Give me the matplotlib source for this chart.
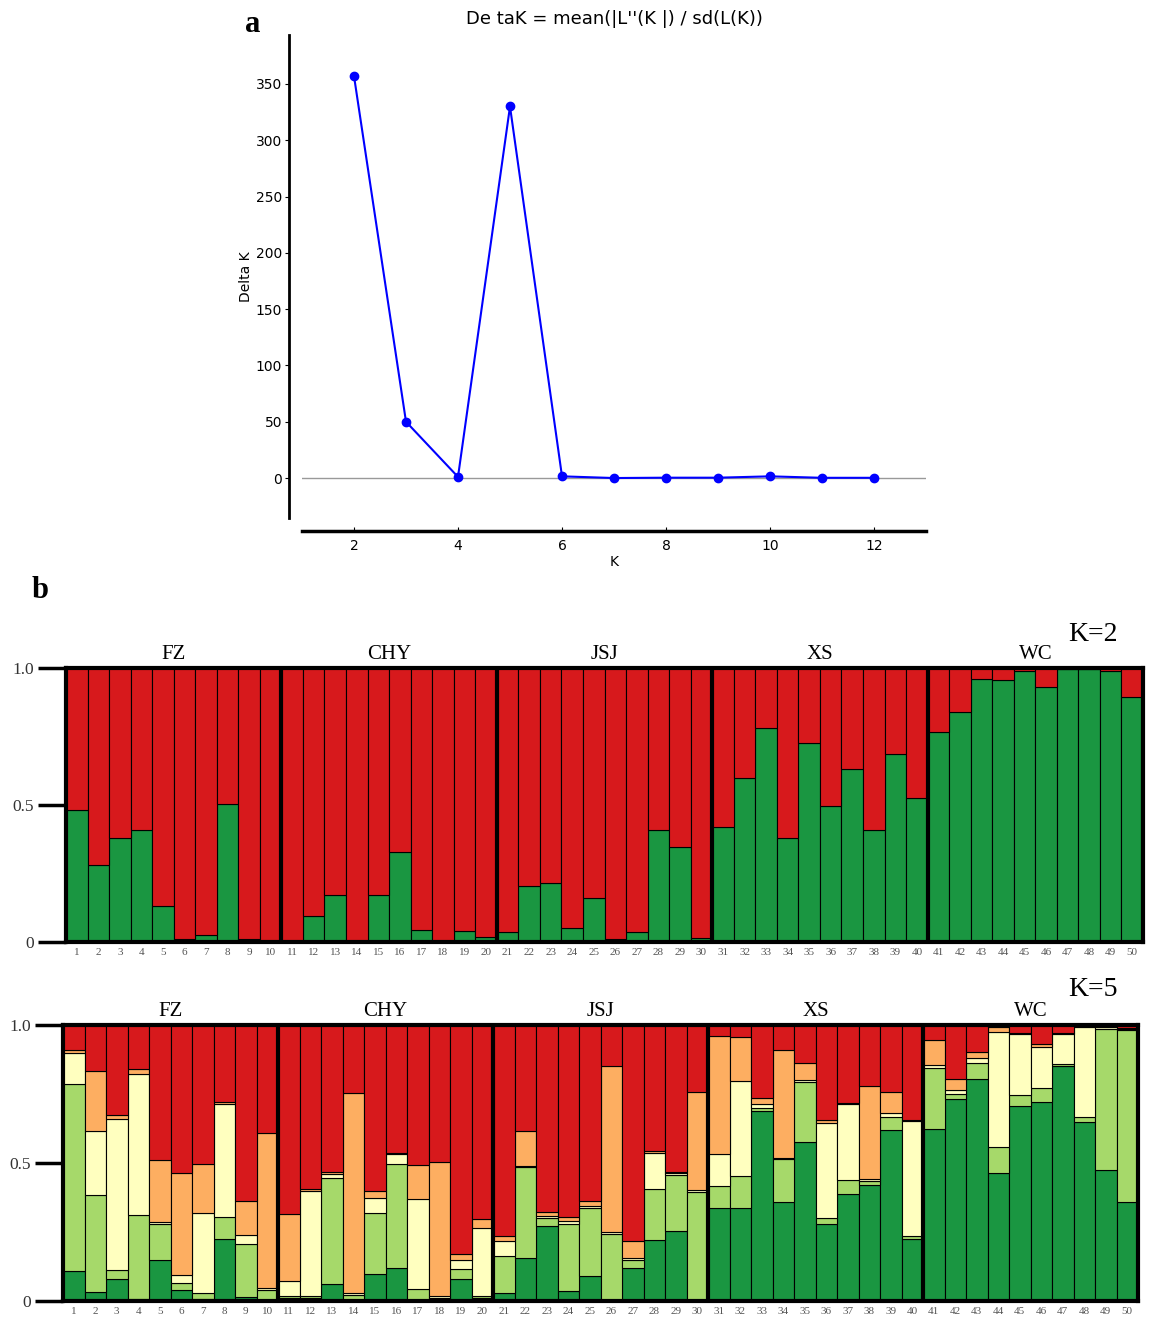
import numpy as np
import matplotlib
matplotlib.use('Agg')
import matplotlib.pyplot as plt

# panel a : delta K
k_values = [2, 3, 4, 5, 6, 7, 8, 9, 10, 11, 12]
delta_k = [357, 50, 1, 330, 1.5, 0, 0.3, 0.3, 1.5, 0.2, 0.2]

# panel b : groups and individuals
groups = ['FZ', 'CHY', 'JSJ', 'XS', 'WC']
individuals = [str(i) for i in range(1, 51)]

# K=2 membership of the green cluster (red is the rest)
k2_green = [0.48, 0.28, 0.38, 0.41, 0.13, 0.01, 0.025, 0.505, 0.01, 0.0,
            0.0, 0.095, 0.17, 0.0, 0.17, 0.33, 0.045, 0.0, 0.04, 0.02,
            0.035, 0.205, 0.215, 0.05, 0.16, 0.01, 0.035, 0.41, 0.345, 0.015,
            0.42, 0.60, 0.78, 0.38, 0.725, 0.495, 0.63, 0.41, 0.685, 0.525,
            0.765, 0.84, 0.96, 0.955, 0.99, 0.93, 0.995, 0.995, 0.99, 0.895]

# K=5 cumulative tops (dark green, light green, yellow, orange); red fills to 1
k5_dgreen = [0.109, 0.034, 0.078, 0.006, 0.150, 0.041, 0.006, 0.223, 0.015, 0.002,
             0.010, 0.010, 0.061, 0.002, 0.097, 0.121, 0.002, 0.005, 0.078, 0.010,
             0.030, 0.155, 0.273, 0.036, 0.092, 0.002, 0.121, 0.221, 0.252, 0.002,
             0.337, 0.337, 0.688, 0.360, 0.577, 0.279, 0.388, 0.422, 0.618, 0.225,
             0.622, 0.732, 0.806, 0.465, 0.708, 0.722, 0.851, 0.647, 0.476, 0.360]
k5_lgreen = [0.785, 0.384, 0.112, 0.310, 0.279, 0.065, 0.030, 0.305, 0.208, 0.039,
             0.017, 0.019, 0.447, 0.021, 0.318, 0.497, 0.045, 0.010, 0.115, 0.017,
             0.164, 0.485, 0.301, 0.279, 0.336, 0.242, 0.148, 0.406, 0.457, 0.395,
             0.415, 0.453, 0.701, 0.513, 0.792, 0.301, 0.440, 0.436, 0.667, 0.235,
             0.845, 0.749, 0.864, 0.558, 0.745, 0.771, 0.858, 0.668, 0.984, 0.982]
k5_yellow = [0.897, 0.617, 0.658, 0.824, 0.288, 0.095, 0.318, 0.713, 0.240, 0.048,
             0.073, 0.400, 0.459, 0.030, 0.372, 0.531, 0.370, 0.017, 0.150, 0.265,
             0.216, 0.490, 0.308, 0.291, 0.345, 0.250, 0.155, 0.536, 0.464, 0.401,
             0.531, 0.798, 0.715, 0.519, 0.801, 0.645, 0.715, 0.441, 0.681, 0.652,
             0.855, 0.764, 0.879, 0.976, 0.967, 0.919, 0.966, 0.994, 0.992, 0.987]
k5_orange = [0.911, 0.835, 0.673, 0.839, 0.510, 0.463, 0.496, 0.722, 0.362, 0.607,
             0.314, 0.406, 0.467, 0.752, 0.399, 0.537, 0.491, 0.504, 0.172, 0.296,
             0.235, 0.616, 0.322, 0.305, 0.361, 0.851, 0.218, 0.544, 0.469, 0.756,
             0.961, 0.955, 0.737, 0.910, 0.863, 0.656, 0.718, 0.778, 0.759, 0.657,
             0.945, 0.806, 0.901, 0.994, 0.970, 0.930, 0.970, 0.995, 0.994, 0.989]

dgreen = '#1a9641'
lgreen = '#a6d96a'
yellow = '#ffffbf'
orange = '#fdae61'
red = '#d7191c'
serif = 'Liberation Serif'

W, H = 1152, 1319
fig = plt.figure(figsize=(W / 100, H / 100), dpi=100)


def box(l, t, r, b):
    # pixel box -> figure fraction
    return [l / W, 1 - b / H, (r - l) / W, (b - t) / H]


# ---------- panel a ----------
ax = fig.add_axes(box(302, 35, 926, 518))
ax.axhline(0, color='#999999', lw=1, zorder=1)
ax.plot(k_values, delta_k, color='blue', lw=1.5, marker='o', ms=6, zorder=3)
ax.set_xlim(1, 13)
ax.set_ylim(-35.5, 393.5)
ax.set_xticks([2, 4, 6, 8, 10, 12])
ax.set_yticks(range(0, 351, 50))
ax.spines['top'].set_visible(False)
ax.spines['right'].set_visible(False)
ax.spines['left'].set_position(('outward', 9.4))
ax.spines['bottom'].set_position(('outward', 9.4))
ax.spines['left'].set_linewidth(2)
ax.spines['bottom'].set_linewidth(2.5)
ax.tick_params(axis='both', labelsize=10)
ax.tick_params(axis='x', direction='in', length=3, pad=6)
ax.tick_params(axis='y', direction='out', length=3, pad=2)
ax.set_xlabel('K', fontsize=10, labelpad=1)
ax.set_ylabel('Delta K', fontsize=10, labelpad=2)
ax.set_title("De taK = mean(|L''(K |) / sd(L(K))", fontsize=13, pad=8)
fig.text(253 / W, 1 - 25 / H, 'a', family=serif, fontweight='bold', fontsize=22,
         ha='center', va='center')
fig.text(40 / W, 1 - 591 / H, 'b', family=serif, fontweight='bold', fontsize=22,
         ha='center', va='center')


def structure_panel(rect, layers, klabel, ky):
    axb = fig.add_axes(rect)
    x = np.arange(50)
    bottom = np.zeros(50)
    for top, col in layers:
        top = np.array(top)
        axb.bar(x, top - bottom, bottom=bottom, width=1.0, align='edge',
                color=col, edgecolor='black', linewidth=0.8)
        bottom = top
    axb.set_xlim(0, 50)
    axb.set_ylim(0, 1)
    for g in range(1, 5):
        axb.axvline(g * 10, color='black', lw=3)
    for s in axb.spines.values():
        s.set_linewidth(3)
    axb.set_yticks([0, 0.5, 1.0])
    axb.set_yticklabels(['0', '0.5', '1.0'], family=serif, fontsize=12.5, color='#333333')
    axb.tick_params(axis='y', length=20, width=2.5, pad=3)
    axb.set_xticks(x + 0.5)
    axb.set_xticklabels(individuals, family=serif, fontsize=8, color='#555555')
    axb.tick_params(axis='x', length=0, pad=4)
    for i, g in enumerate(groups):
        axb.text(i * 10 + 5, 1.033, g, family=serif, fontsize=15,
                 ha='center', va='baseline')
    fig.text(1093 / W, 1 - ky / H, klabel, family=serif, fontsize=20,
             ha='center', va='baseline')
    return axb


structure_panel(box(66, 668, 1143, 942),
                [(k2_green, dgreen), ([1.0] * 50, red)], 'K=2', 641)
structure_panel(box(63, 1025, 1138, 1301),
                [(k5_dgreen, dgreen), (k5_lgreen, lgreen), (k5_yellow, yellow),
                 (k5_orange, orange), ([1.0] * 50, red)], 'K=5', 996)

fig.savefig('out.png', dpi=100)
